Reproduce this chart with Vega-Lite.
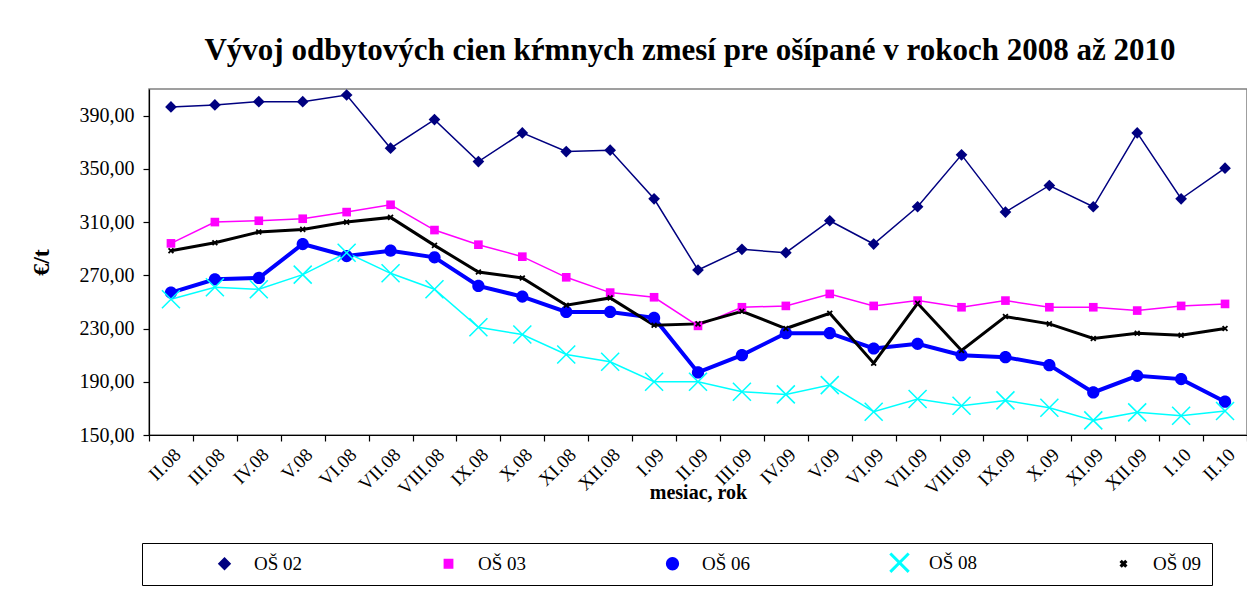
{
  "$schema": "https://vega.github.io/schema/vega-lite/v6.json",
  "width": 1098,
  "height": 346,
  "autosize": {"type": "none"},
  "padding": {"left": 149, "top": 89, "right": 0, "bottom": 155},
  "background": "white",
  "title": {
    "text": "Vývoj odbytových cien kŕmnych zmesí pre ošípané v rokoch 2008 až 2010",
    "font": "Liberation Serif", "fontSize": 31, "fontWeight": "bold", "color": "black",
    "anchor": "middle", "baseline": "alphabetic", "offset": -2, "dx": -8, "frame": "group"
  },
  "config": {
    "view": {"stroke": "#808080", "strokeWidth": 1.5},
    "axis": {"grid": false, "domainColor": "black", "tickColor": "black", "labelColor": "black", "titleColor": "black", "labelFont": "Liberation Serif", "titleFont": "Liberation Serif", "domainWidth": 1.2, "tickWidth": 1.2, "tickSize": 6},
    "legend": {"orient": "none", "legendX": -7, "legendY": 454, "direction": "horizontal", "columns": 5, "columnPadding": 136, "symbolSize": 300, "labelOffset": 20, "labelFont": "Liberation Serif", "labelFontSize": 19, "labelColor": "black", "strokeColor": "black", "padding": 10, "titleOrient": "left", "titlePadding": 63, "titleFontSize": 19}
  },
  "data": {"values": [
    {"m":"II.08","s":"OŠ 02","v":396.5},{"m":"III.08","s":"OŠ 02","v":398},{"m":"IV.08","s":"OŠ 02","v":400.5},{"m":"V.08","s":"OŠ 02","v":400.5},{"m":"VI.08","s":"OŠ 02","v":405.5},{"m":"VII.08","s":"OŠ 02","v":365.5},{"m":"VIII.08","s":"OŠ 02","v":387},{"m":"IX.08","s":"OŠ 02","v":355.5},{"m":"X.08","s":"OŠ 02","v":377},{"m":"XI.08","s":"OŠ 02","v":363},{"m":"XII.08","s":"OŠ 02","v":364},{"m":"I.09","s":"OŠ 02","v":327.5},{"m":"II.09","s":"OŠ 02","v":274},{"m":"III.09","s":"OŠ 02","v":289.5},{"m":"IV.09","s":"OŠ 02","v":287},{"m":"V.09","s":"OŠ 02","v":311},{"m":"VI.09","s":"OŠ 02","v":293.5},{"m":"VII.09","s":"OŠ 02","v":321.5},{"m":"VIII.09","s":"OŠ 02","v":360.5},{"m":"IX.09","s":"OŠ 02","v":317.5},{"m":"X.09","s":"OŠ 02","v":337.5},{"m":"XI.09","s":"OŠ 02","v":321.5},{"m":"XII.09","s":"OŠ 02","v":377},{"m":"I.10","s":"OŠ 02","v":327.5},{"m":"II.10","s":"OŠ 02","v":350.5},
    {"m":"II.08","s":"OŠ 03","v":294},{"m":"III.08","s":"OŠ 03","v":310},{"m":"IV.08","s":"OŠ 03","v":311},{"m":"V.08","s":"OŠ 03","v":312.5},{"m":"VI.08","s":"OŠ 03","v":317.5},{"m":"VII.08","s":"OŠ 03","v":323},{"m":"VIII.08","s":"OŠ 03","v":304},{"m":"IX.08","s":"OŠ 03","v":293},{"m":"X.08","s":"OŠ 03","v":284},{"m":"XI.08","s":"OŠ 03","v":268.5},{"m":"XII.08","s":"OŠ 03","v":257},{"m":"I.09","s":"OŠ 03","v":253.5},{"m":"II.09","s":"OŠ 03","v":232},{"m":"III.09","s":"OŠ 03","v":246},{"m":"IV.09","s":"OŠ 03","v":247},{"m":"V.09","s":"OŠ 03","v":256},{"m":"VI.09","s":"OŠ 03","v":247},{"m":"VII.09","s":"OŠ 03","v":251},{"m":"VIII.09","s":"OŠ 03","v":246},{"m":"IX.09","s":"OŠ 03","v":251},{"m":"X.09","s":"OŠ 03","v":246},{"m":"XI.09","s":"OŠ 03","v":246},{"m":"XII.09","s":"OŠ 03","v":243.5},{"m":"I.10","s":"OŠ 03","v":247},{"m":"II.10","s":"OŠ 03","v":248.5},
    {"m":"II.08","s":"OŠ 06","v":257},{"m":"III.08","s":"OŠ 06","v":267},{"m":"IV.08","s":"OŠ 06","v":268},{"m":"V.08","s":"OŠ 06","v":293.5},{"m":"VI.08","s":"OŠ 06","v":284.5},{"m":"VII.08","s":"OŠ 06","v":288.5},{"m":"VIII.08","s":"OŠ 06","v":283.5},{"m":"IX.08","s":"OŠ 06","v":262},{"m":"X.08","s":"OŠ 06","v":254},{"m":"XI.08","s":"OŠ 06","v":242.5},{"m":"XII.08","s":"OŠ 06","v":242.5},{"m":"I.09","s":"OŠ 06","v":238},{"m":"II.09","s":"OŠ 06","v":197},{"m":"III.09","s":"OŠ 06","v":210},{"m":"IV.09","s":"OŠ 06","v":226.5},{"m":"V.09","s":"OŠ 06","v":226.5},{"m":"VI.09","s":"OŠ 06","v":215},{"m":"VII.09","s":"OŠ 06","v":218.5},{"m":"VIII.09","s":"OŠ 06","v":210},{"m":"IX.09","s":"OŠ 06","v":208.5},{"m":"X.09","s":"OŠ 06","v":202.5},{"m":"XI.09","s":"OŠ 06","v":182},{"m":"XII.09","s":"OŠ 06","v":194.5},{"m":"I.10","s":"OŠ 06","v":192},{"m":"II.10","s":"OŠ 06","v":175},
    {"m":"II.08","s":"OŠ 08","v":252},{"m":"III.08","s":"OŠ 08","v":261},{"m":"IV.08","s":"OŠ 08","v":259.5},{"m":"V.08","s":"OŠ 08","v":270.5},{"m":"VI.08","s":"OŠ 08","v":287},{"m":"VII.08","s":"OŠ 08","v":271.5},{"m":"VIII.08","s":"OŠ 08","v":259.5},{"m":"IX.08","s":"OŠ 08","v":231},{"m":"X.08","s":"OŠ 08","v":225.5},{"m":"XI.08","s":"OŠ 08","v":210.5},{"m":"XII.08","s":"OŠ 08","v":205},{"m":"I.09","s":"OŠ 08","v":190},{"m":"II.09","s":"OŠ 08","v":190},{"m":"III.09","s":"OŠ 08","v":182.5},{"m":"IV.09","s":"OŠ 08","v":180.5},{"m":"V.09","s":"OŠ 08","v":187.5},{"m":"VI.09","s":"OŠ 08","v":167.5},{"m":"VII.09","s":"OŠ 08","v":177},{"m":"VIII.09","s":"OŠ 08","v":172},{"m":"IX.09","s":"OŠ 08","v":176},{"m":"X.09","s":"OŠ 08","v":170.5},{"m":"XI.09","s":"OŠ 08","v":161},{"m":"XII.09","s":"OŠ 08","v":167},{"m":"I.10","s":"OŠ 08","v":164.5},{"m":"II.10","s":"OŠ 08","v":168},
    {"m":"II.08","s":"OŠ 09","v":288.5},{"m":"III.08","s":"OŠ 09","v":294.5},{"m":"IV.08","s":"OŠ 09","v":302.5},{"m":"V.08","s":"OŠ 09","v":304.5},{"m":"VI.08","s":"OŠ 09","v":310},{"m":"VII.08","s":"OŠ 09","v":313.5},{"m":"VIII.08","s":"OŠ 09","v":292.5},{"m":"IX.08","s":"OŠ 09","v":272.5},{"m":"X.08","s":"OŠ 09","v":268},{"m":"XI.08","s":"OŠ 09","v":247.5},{"m":"XII.08","s":"OŠ 09","v":253},{"m":"I.09","s":"OŠ 09","v":232.5},{"m":"II.09","s":"OŠ 09","v":233.5},{"m":"III.09","s":"OŠ 09","v":243},{"m":"IV.09","s":"OŠ 09","v":230},{"m":"V.09","s":"OŠ 09","v":241.5},{"m":"VI.09","s":"OŠ 09","v":204},{"m":"VII.09","s":"OŠ 09","v":249},{"m":"VIII.09","s":"OŠ 09","v":213.5},{"m":"IX.09","s":"OŠ 09","v":239},{"m":"X.09","s":"OŠ 09","v":233.5},{"m":"XI.09","s":"OŠ 09","v":222.5},{"m":"XII.09","s":"OŠ 09","v":226.5},{"m":"I.10","s":"OŠ 09","v":225},{"m":"II.10","s":"OŠ 09","v":230}
  ]},
  "encoding": {
    "x": {"field": "m", "type": "nominal",
      "scale": {"type": "band", "paddingInner": 0, "paddingOuter": 0, "domain": ["II.08","III.08","IV.08","V.08","VI.08","VII.08","VIII.08","IX.08","X.08","XI.08","XII.08","I.09","II.09","III.09","IV.09","V.09","VI.09","VII.09","VIII.09","IX.09","X.09","XI.09","XII.09","I.10","II.10"]},
      "axis": {"title": "mesiac, rok", "titleFontSize": 20, "titleFontWeight": "bold", "titlePadding": -16, "labelAngle": -45, "labelFontSize": 19, "tickBand": "extent", "labelPadding": 4}},
    "y": {"field": "v", "type": "quantitative",
      "scale": {"domain": [150, 410], "nice": false, "zero": false},
      "axis": {"values": [150,190,230,270,310,350,390], "labelExpr": "replace(format(datum.value, '.2f'), '.', ',')", "labelFontSize": 20, "labelPadding": 9, "title": "€/t", "titleFontSize": 24, "titleFontWeight": "bold", "titlePadding": 26}},
    "color": {"field": "s", "type": "nominal",
      "scale": {"domain": ["OŠ 02","OŠ 03","OŠ 06","OŠ 08","OŠ 09"], "range": ["#000080","#FF00FF","#0000FF","#00FFFF","#000000"]},
      "legend": {"title": "\u00a0"}
    }
  },
  "layer": [
    {
      "mark": {"type": "line"},
      "encoding": {
        "strokeWidth": {"condition": [{"test": "datum.s === 'OŠ 06'", "value": 4}, {"test": "datum.s === 'OŠ 09'", "value": 3}], "value": 1.5}
      }
    },
    {
      "mark": {"type": "point", "filled": true, "size": 324, "opacity": 1},
      "encoding": {
        "shape": {"field": "s", "type": "nominal",
          "scale": {"domain": ["OŠ 02","OŠ 03","OŠ 06","OŠ 08","OŠ 09"], "range": ["M0,-0.65L0.65,0L0,0.65L-0.65,0Z", "M-0.48,-0.48L0.48,-0.48L0.48,0.48L-0.48,0.48Z", "M-0.68,0A0.68,0.68,0,1,0,0.68,0A0.68,0.68,0,1,0,-0.68,0Z", "M-0.94,-1.06L1.06,0.94L0.94,1.06L-1.06,-0.94ZM1.06,-0.94L-0.94,1.06L-1.06,0.94L0.94,-1.06Z", "M-0.2,-0.34L0.34,0.2L0.2,0.34L-0.34,-0.2ZM0.34,-0.2L-0.2,0.34L-0.34,0.2L0.2,-0.34Z"]},
          "legend": {"title": "\u00a0"}
        }
      }
    }
  ]
}
